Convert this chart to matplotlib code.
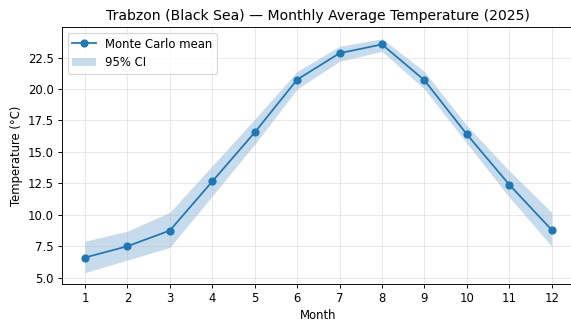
import matplotlib.pyplot as plt
import numpy as np

months = np.arange(1, 13)
mean_temp = [6.6, 7.5, 8.75, 12.65, 16.55, 20.75, 22.85, 23.55, 20.7, 16.4, 12.4, 8.8]
ci_low = [5.4, 6.4, 7.4, 11.5, 15.6, 20.0, 22.2, 23.0, 20.0, 15.7, 11.4, 7.5]
ci_high = [7.9, 8.7, 10.2, 13.9, 17.6, 21.4, 23.4, 24.0, 21.4, 17.1, 13.5, 10.2]

# default font sizes, just drawn at a lower dpi so it comes out 571x322
fig, ax = plt.subplots(figsize=(571 / 84, 322 / 84), dpi=84)
# reference looks cropped on the right, so the axes run past the edge
fig.subplots_adjust(left=0.108, right=1.007, bottom=0.117, top=0.916)

ax.plot(months, mean_temp, marker="o", color="C0", label="Monte Carlo mean")
ax.fill_between(months, ci_low, ci_high, color="C0", alpha=0.25, linewidth=0, label="95% CI")

ax.set_xticks(months)
ax.set_xlabel("Month", labelpad=3)
ax.set(ylabel="Temperature (°C)",
       title="Trabzon (Black Sea) — Monthly Average Temperature (2025)")
ax.grid(alpha=0.3)
ax.legend(loc="upper left")

plt.savefig("out.png", dpi=84)
